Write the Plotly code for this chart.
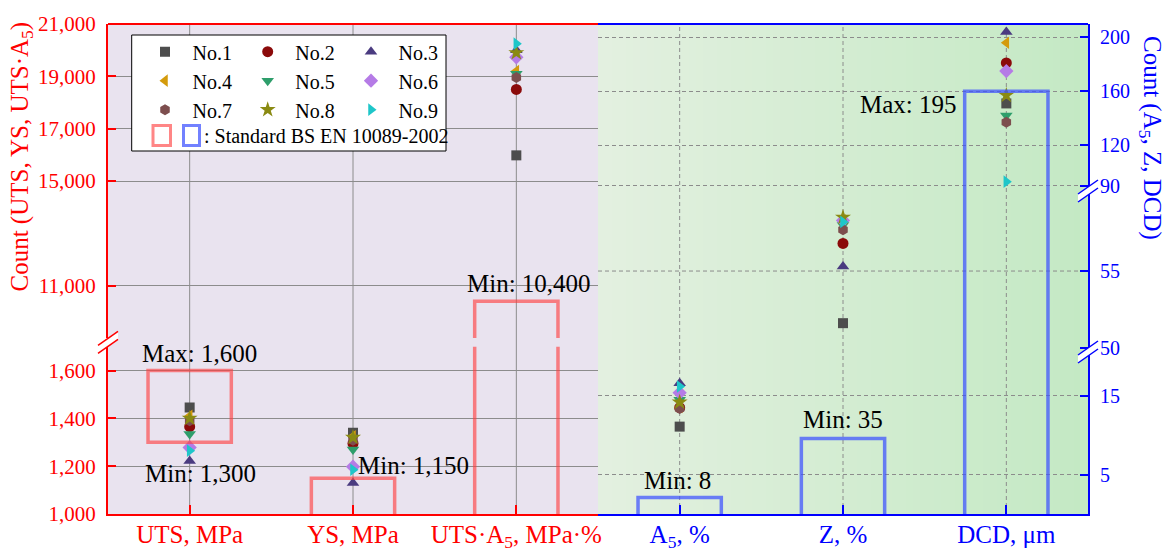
import plotly.graph_objects as go

# ---------------- data ----------------
samples = ["No.1", "No.2", "No.3", "No.4", "No.5", "No.6", "No.7", "No.8", "No.9"]
left_categories = ["UTS, MPa", "YS, MPa", "UTS·A<sub>5</sub>, MPa·%"]
right_categories = ["A<sub>5</sub>, %", "Z, %", "DCD, μm"]

uts = [1445, 1365, 1222, 1410, 1335, 1278, 1390, 1400, 1265]
ys = [1340, 1295, 1130, 1325, 1270, 1198, 1308, 1320, 1185]
uts_a5 = [15980, 18500, 20000, 19200, 19100, 19730, 18960, 19900, 20250]
a5 = [11.1, 13.5, 16.6, 13.6, 14.5, 15.4, 13.4, 14.2, 16.2]
z = [51.6, 56.8, 55.3, 58.3, 58.0, 58.3, 57.7, 58.5, 58.2]
dcd = [151, 181, 204, 196, 142, 175, 137, 157, 93]

# Standard BS EN 10089-2002 limits
uts_limits = [1300, 1600]
ys_min = 1150
uts_a5_min = 10400
a5_min = 8
z_min = 35
dcd_max = 195
# heights at which the (not to scale) blue boxes are drawn in the source
blue_box_heights = [2.1, 9.6, 160]

# tick values
y_low_ticks = [1000, 1200, 1400, 1600]
y_up_ticks = [11000, 15000, 17000, 19000, 21000]
r_low_ticks = [5, 15]
r_mid_ticks = [50, 55]
r_mid_grid = [55]
r_up_ticks = [90, 120, 160, 200]

# ---------------- styles ----------------
symbols = ["square", "circle", "triangle-up", "triangle-left", "triangle-down",
           "diamond", "hexagon", "star", "triangle-right"]
colors = ["#4d4d4d", "#8b0a0a", "#4a3b80", "#d49b0c", "#2e9e6b",
          "#b57be6", "#7d4e4e", "#8a8a12", "#1ec6c9"]
sizes = [10, 11, 11, 11, 11, 11, 11, 12, 11]
FONT = "Liberation Serif"
RED = "#ff0000"
BLUE = "#0000ff"
RED_BOX = "rgba(255,60,60,0.62)"
BLUE_BOX = "rgba(60,80,255,0.72)"
GRID = "#8c8c8c"

W, H = 1169, 552
ML, MR, MT, MB = 108, 81, 24, 38
PW, PH = W - ML - MR, H - MT - MB


def fx(px):
    return (px - ML) / PW


def fy(py):
    return (H - MB - py) / PH


Y_LOW_DOM = [0, fy(346.6)]
Y_UP_DOM = [fy(338), 1]
R_LOW_DOM = [0, fy(352)]
R_MID_DOM = [fy(352), fy(191)]
R_UP_DOM = [fy(191), 1]
Y_LOW_RANGE = [1000, 1700]
Y_UP_RANGE = [9000, 21000]
R_LOW_RANGE = [0, 20.58]
R_MID_RANGE = [49.72, 60.22]
R_UP_RANGE = [86.07, 209.9]
X_RANGE = [-0.5, 2.5]
BOX_HALF = 0.255

fig = go.Figure()

legend_names = ["legend", "legend2", "legend3"]
for i, name in enumerate(samples):
    mk = dict(symbol=symbols[i], color=colors[i], size=sizes[i], line=dict(width=0))
    common = dict(mode="markers", marker=mk, name=name, legendgroup=name,
                  legend=legend_names[i % 3], hoverinfo="x+y+name")
    fig.add_trace(go.Scatter(x=[0, 1], y=[uts[i], ys[i]], xaxis="x", yaxis="y",
                             showlegend=True, **common))
    fig.add_trace(go.Scatter(x=[2], y=[uts_a5[i]], xaxis="x", yaxis="y2",
                             showlegend=False, **common))
    fig.add_trace(go.Scatter(x=[0], y=[a5[i]], xaxis="x2", yaxis="y3",
                             showlegend=False, **common))
    fig.add_trace(go.Scatter(x=[1], y=[z[i]], xaxis="x2", yaxis="y4",
                             showlegend=False, **common))
    fig.add_trace(go.Scatter(x=[2], y=[dcd[i]], xaxis="x2", yaxis="y5",
                             showlegend=False, **common))

shapes = []
# ---- backgrounds ----
shapes.append(dict(type="rect", xref="x domain", yref="paper", x0=0, x1=1, y0=0, y1=1,
                   fillcolor="#e9e3ef", line=dict(width=0), layer="below"))
N = 70
c0, c1 = (227, 240, 224), (196, 233, 196)
for k in range(N):
    t = k / (N - 1)
    col = "rgb(%d,%d,%d)" % tuple(round(c0[j] + (c1[j] - c0[j]) * t) for j in range(3))
    shapes.append(dict(type="rect", xref="x2 domain", yref="paper", x0=k / N, x1=(k + 1) / N + 0.002,
                       y0=0, y1=1, fillcolor=col, line=dict(width=0), layer="below"))

# ---- vertical grid lines ----
for k in range(3):
    shapes.append(dict(type="line", xref="x", yref="paper", x0=k, x1=k, y0=0, y1=1,
                       line=dict(color=GRID, width=1), layer="below"))
    shapes.append(dict(type="line", xref="x2", yref="paper", x0=k, x1=k, y0=0, y1=1,
                       line=dict(color=GRID, width=1, dash="4px,3px"), layer="below"))
for v in r_mid_grid:
    shapes.append(dict(type="line", xref="x2 domain", yref="y4", x0=0, x1=1, y0=v, y1=v,
                       line=dict(color=GRID, width=1, dash="4px,3px"), layer="below"))

# ---- top border ----
shapes.append(dict(type="line", xref="x domain", yref="paper", x0=0, x1=1, y0=1, y1=1,
                   line=dict(color=RED, width=2)))
shapes.append(dict(type="line", xref="x2 domain", yref="paper", x0=0, x1=1, y0=1, y1=1,
                   line=dict(color=BLUE, width=2)))

# ---- red standard boxes (to scale) ----
bl = dict(color=RED_BOX, width=3.5)
x0, x1 = 0 - BOX_HALF, 0 + BOX_HALF
shapes.append(dict(type="rect", xref="x", yref="y", x0=x0, x1=x1, y0=uts_limits[0], y1=uts_limits[1], line=bl))
x0, x1 = 1 - BOX_HALF, 1 + BOX_HALF
shapes.append(dict(type="path", xref="x", yref="y",
                   path=f"M{x0},{Y_LOW_RANGE[0]} L{x0},{ys_min} L{x1},{ys_min} L{x1},{Y_LOW_RANGE[0]}", line=bl))
x0, x1 = 2 - BOX_HALF, 2 + BOX_HALF
shapes.append(dict(type="path", xref="x", yref="y2",
                   path=f"M{x0},{Y_UP_RANGE[0]} L{x0},{uts_a5_min} L{x1},{uts_a5_min} L{x1},{Y_UP_RANGE[0]}", line=bl))
shapes.append(dict(type="path", xref="x", yref="y",
                   path=f"M{x0},{Y_LOW_RANGE[0]} L{x0},{Y_LOW_RANGE[1]} M{x1},{Y_LOW_RANGE[0]} L{x1},{Y_LOW_RANGE[1]}", line=bl))

# ---- blue standard boxes (schematic) ----
bb = dict(color=BLUE_BOX, width=3.5)
for k in range(2):
    x0, x1 = k - BOX_HALF, k + BOX_HALF
    h = blue_box_heights[k]
    shapes.append(dict(type="path", xref="x2", yref="y3",
                       path=f"M{x0},{R_LOW_RANGE[0]} L{x0},{h} L{x1},{h} L{x1},{R_LOW_RANGE[0]}", line=bb))
x0, x1 = 2 - BOX_HALF, 2 + BOX_HALF
h = blue_box_heights[2]
shapes.append(dict(type="path", xref="x2", yref="y5",
                   path=f"M{x0},{R_UP_RANGE[0]} L{x0},{h} L{x1},{h} L{x1},{R_UP_RANGE[0]}", line=bb))
shapes.append(dict(type="path", xref="x2", yref="y4",
                   path=f"M{x0},{R_MID_RANGE[0]} L{x0},{R_MID_RANGE[1]} M{x1},{R_MID_RANGE[0]} L{x1},{R_MID_RANGE[1]}", line=bb))
shapes.append(dict(type="path", xref="x2", yref="y3",
                   path=f"M{x0},{R_LOW_RANGE[0]} L{x0},{R_LOW_RANGE[1]} M{x1},{R_LOW_RANGE[0]} L{x1},{R_LOW_RANGE[1]}", line=bb))


# ---- axis break marks ----
def brk(xa, ya, color):
    common = dict(xref="paper", yref="paper", xanchor=xa, yanchor=ya,
                  xsizemode="pixel", ysizemode="pixel")
    shapes.append(dict(type="path", path="M-10,-3 L10,11 L10,3 L-10,-11 Z",
                       fillcolor="white", line=dict(width=0), **common))
    shapes.append(dict(type="path", path="M-10,-3 L10,11", line=dict(color=color, width=1.5), **common))
    shapes.append(dict(type="path", path="M-10,-11 L10,3", line=dict(color=color, width=1.5), **common))


brk(0, (Y_LOW_DOM[1] + Y_UP_DOM[0]) / 2, RED)
brk(1, R_LOW_DOM[1], BLUE)
brk(1, R_MID_DOM[1], BLUE)

# ---- legend frame and standard row ----
LEG_L, LEG_T, LEG_R, LEG_B = 131.7, 35, 446, 151
shapes.append(dict(type="rect", xref="paper", yref="paper", x0=fx(LEG_L), x1=fx(LEG_R),
                   y0=fy(LEG_B), y1=fy(LEG_T), fillcolor="white", line=dict(color="black", width=1)))
shapes.append(dict(type="rect", xref="paper", yref="paper", x0=fx(153), x1=fx(170.5),
                   y0=fy(145.5), y1=fy(125.5), line=dict(color=RED_BOX, width=3)))
shapes.append(dict(type="rect", xref="paper", yref="paper", x0=fx(183.5), x1=fx(199.5),
                   y0=fy(145.5), y1=fy(125.5), line=dict(color=BLUE_BOX, width=3)))

annotations = []


def ann(text, x, y, xref, yref, xanchor="center", yanchor="middle", xshift=0, yshift=0,
        size=25, color="black", angle=0):
    annotations.append(dict(text=text, x=x, y=y, xref=xref, yref=yref, xanchor=xanchor,
                            yanchor=yanchor, xshift=xshift, yshift=yshift, showarrow=False,
                            textangle=angle, font=dict(family=FONT, size=size, color=color)))


ann(": Standard BS EN 10089-2002", fx(202), fy(136), "paper", "paper", xanchor="left", size=20)

ann(f"Max: {uts_limits[1]:,}", 0, uts_limits[1], "x", "y", yanchor="bottom", xshift=10, yshift=2)
ann(f"Min: {uts_limits[0]:,}", 0, uts_limits[0], "x", "y", yanchor="top", xshift=11, yshift=-16)
ann(f"Min: {ys_min:,}", 1, ys_min, "x", "y", xanchor="left", yanchor="bottom", xshift=3, yshift=-3)
ann(f"Min: {uts_a5_min:,}", 2, uts_a5_min, "x", "y2", yanchor="bottom", xshift=13, yshift=2)
ann(f"Min: {a5_min}", 0, blue_box_heights[0], "x2", "y3", yanchor="bottom", xshift=-2, yshift=1)
ann(f"Min: {z_min}", 1, blue_box_heights[1], "x2", "y3", yanchor="bottom", xshift=0, yshift=3)
ann(f"Max: {dcd_max}", 2 - BOX_HALF, blue_box_heights[2], "x2", "y5", xanchor="right",
    yanchor="top", xshift=-6, yshift=2)

# axis titles
ann("Count (UTS, YS, UTS·A<sub>5</sub>)", 0, fy(156.5), "paper", "paper", xshift=21 - ML,
    color=RED, angle=-90)
ann("Count (A<sub>5</sub>, Z, DCD)", 1, fy(138), "paper", "paper", xshift=1151 - (W - MR),
    color=BLUE, angle=90)

xcommon = dict(range=X_RANGE, tickvals=[0, 1, 2], showgrid=False, zeroline=False,
               ticks="inside", ticklen=9, tickwidth=2, showline=True, linewidth=2,
               fixedrange=True, automargin=False, ticklabelstandoff=-3)
ycommon = dict(zeroline=False, ticks="inside", ticklen=8, tickwidth=2, showline=True,
               linewidth=2, gridwidth=1, gridcolor=GRID, fixedrange=True,
               ticklabelstandoff=6, automargin=False)

fig.update_layout(
    width=W, height=H,
    margin=dict(l=ML, r=MR, t=MT, b=MB, pad=0, autoexpand=False),
    paper_bgcolor="white", plot_bgcolor="rgba(0,0,0,0)",
    font=dict(family=FONT, color="black"),
    xaxis=dict(domain=[0, 0.5], anchor="y", ticktext=left_categories,
               tickfont=dict(family=FONT, size=25, color=RED), linecolor=RED, tickcolor=RED,
               **xcommon),
    xaxis2=dict(domain=[0.5, 1], anchor="y3", ticktext=right_categories,
                tickfont=dict(family=FONT, size=25, color=BLUE), linecolor=BLUE, tickcolor=BLUE,
                **xcommon),
    yaxis=dict(domain=Y_LOW_DOM, range=Y_LOW_RANGE, anchor="x", tickvals=y_low_ticks,
               tickformat=",", tickfont=dict(family=FONT, size=21, color=RED),
               linecolor=RED, tickcolor=RED, **ycommon),
    yaxis2=dict(domain=Y_UP_DOM, range=Y_UP_RANGE, anchor="x", tickvals=y_up_ticks,
                tickformat=",", tickfont=dict(family=FONT, size=21, color=RED),
                linecolor=RED, tickcolor=RED, **ycommon),
    yaxis3=dict(domain=R_LOW_DOM, range=R_LOW_RANGE, anchor="x2", side="right",
                tickvals=r_low_ticks, griddash="4px,3px",
                tickfont=dict(family=FONT, size=20, color=BLUE), linecolor=BLUE,
                tickcolor=BLUE, **ycommon),
    yaxis4=dict(domain=R_MID_DOM, range=R_MID_RANGE, anchor="x2", side="right",
                tickvals=r_mid_ticks, showgrid=False,
                tickfont=dict(family=FONT, size=20, color=BLUE), linecolor=BLUE,
                tickcolor=BLUE, **ycommon),
    yaxis5=dict(domain=R_UP_DOM, range=R_UP_RANGE, anchor="x2", side="right",
                tickvals=r_up_ticks, griddash="4px,3px",
                tickfont=dict(family=FONT, size=20, color=BLUE), linecolor=BLUE,
                tickcolor=BLUE, **ycommon),
    shapes=shapes,
    annotations=annotations,
)

leg_symbol_x = [160, 262.7, 366]
ITEMW = 45
for k, ln in enumerate(legend_names):
    fig.update_layout({ln: dict(x=fx(leg_symbol_x[k] - ITEMW / 2), y=fy(51.7 - 19.5),
                                xanchor="left", yanchor="top", bgcolor="rgba(0,0,0,0)",
                                borderwidth=0, itemwidth=ITEMW, tracegroupgap=0,
                                font=dict(family=FONT, size=20, color="black"))})

fig.write_html("out.html")
